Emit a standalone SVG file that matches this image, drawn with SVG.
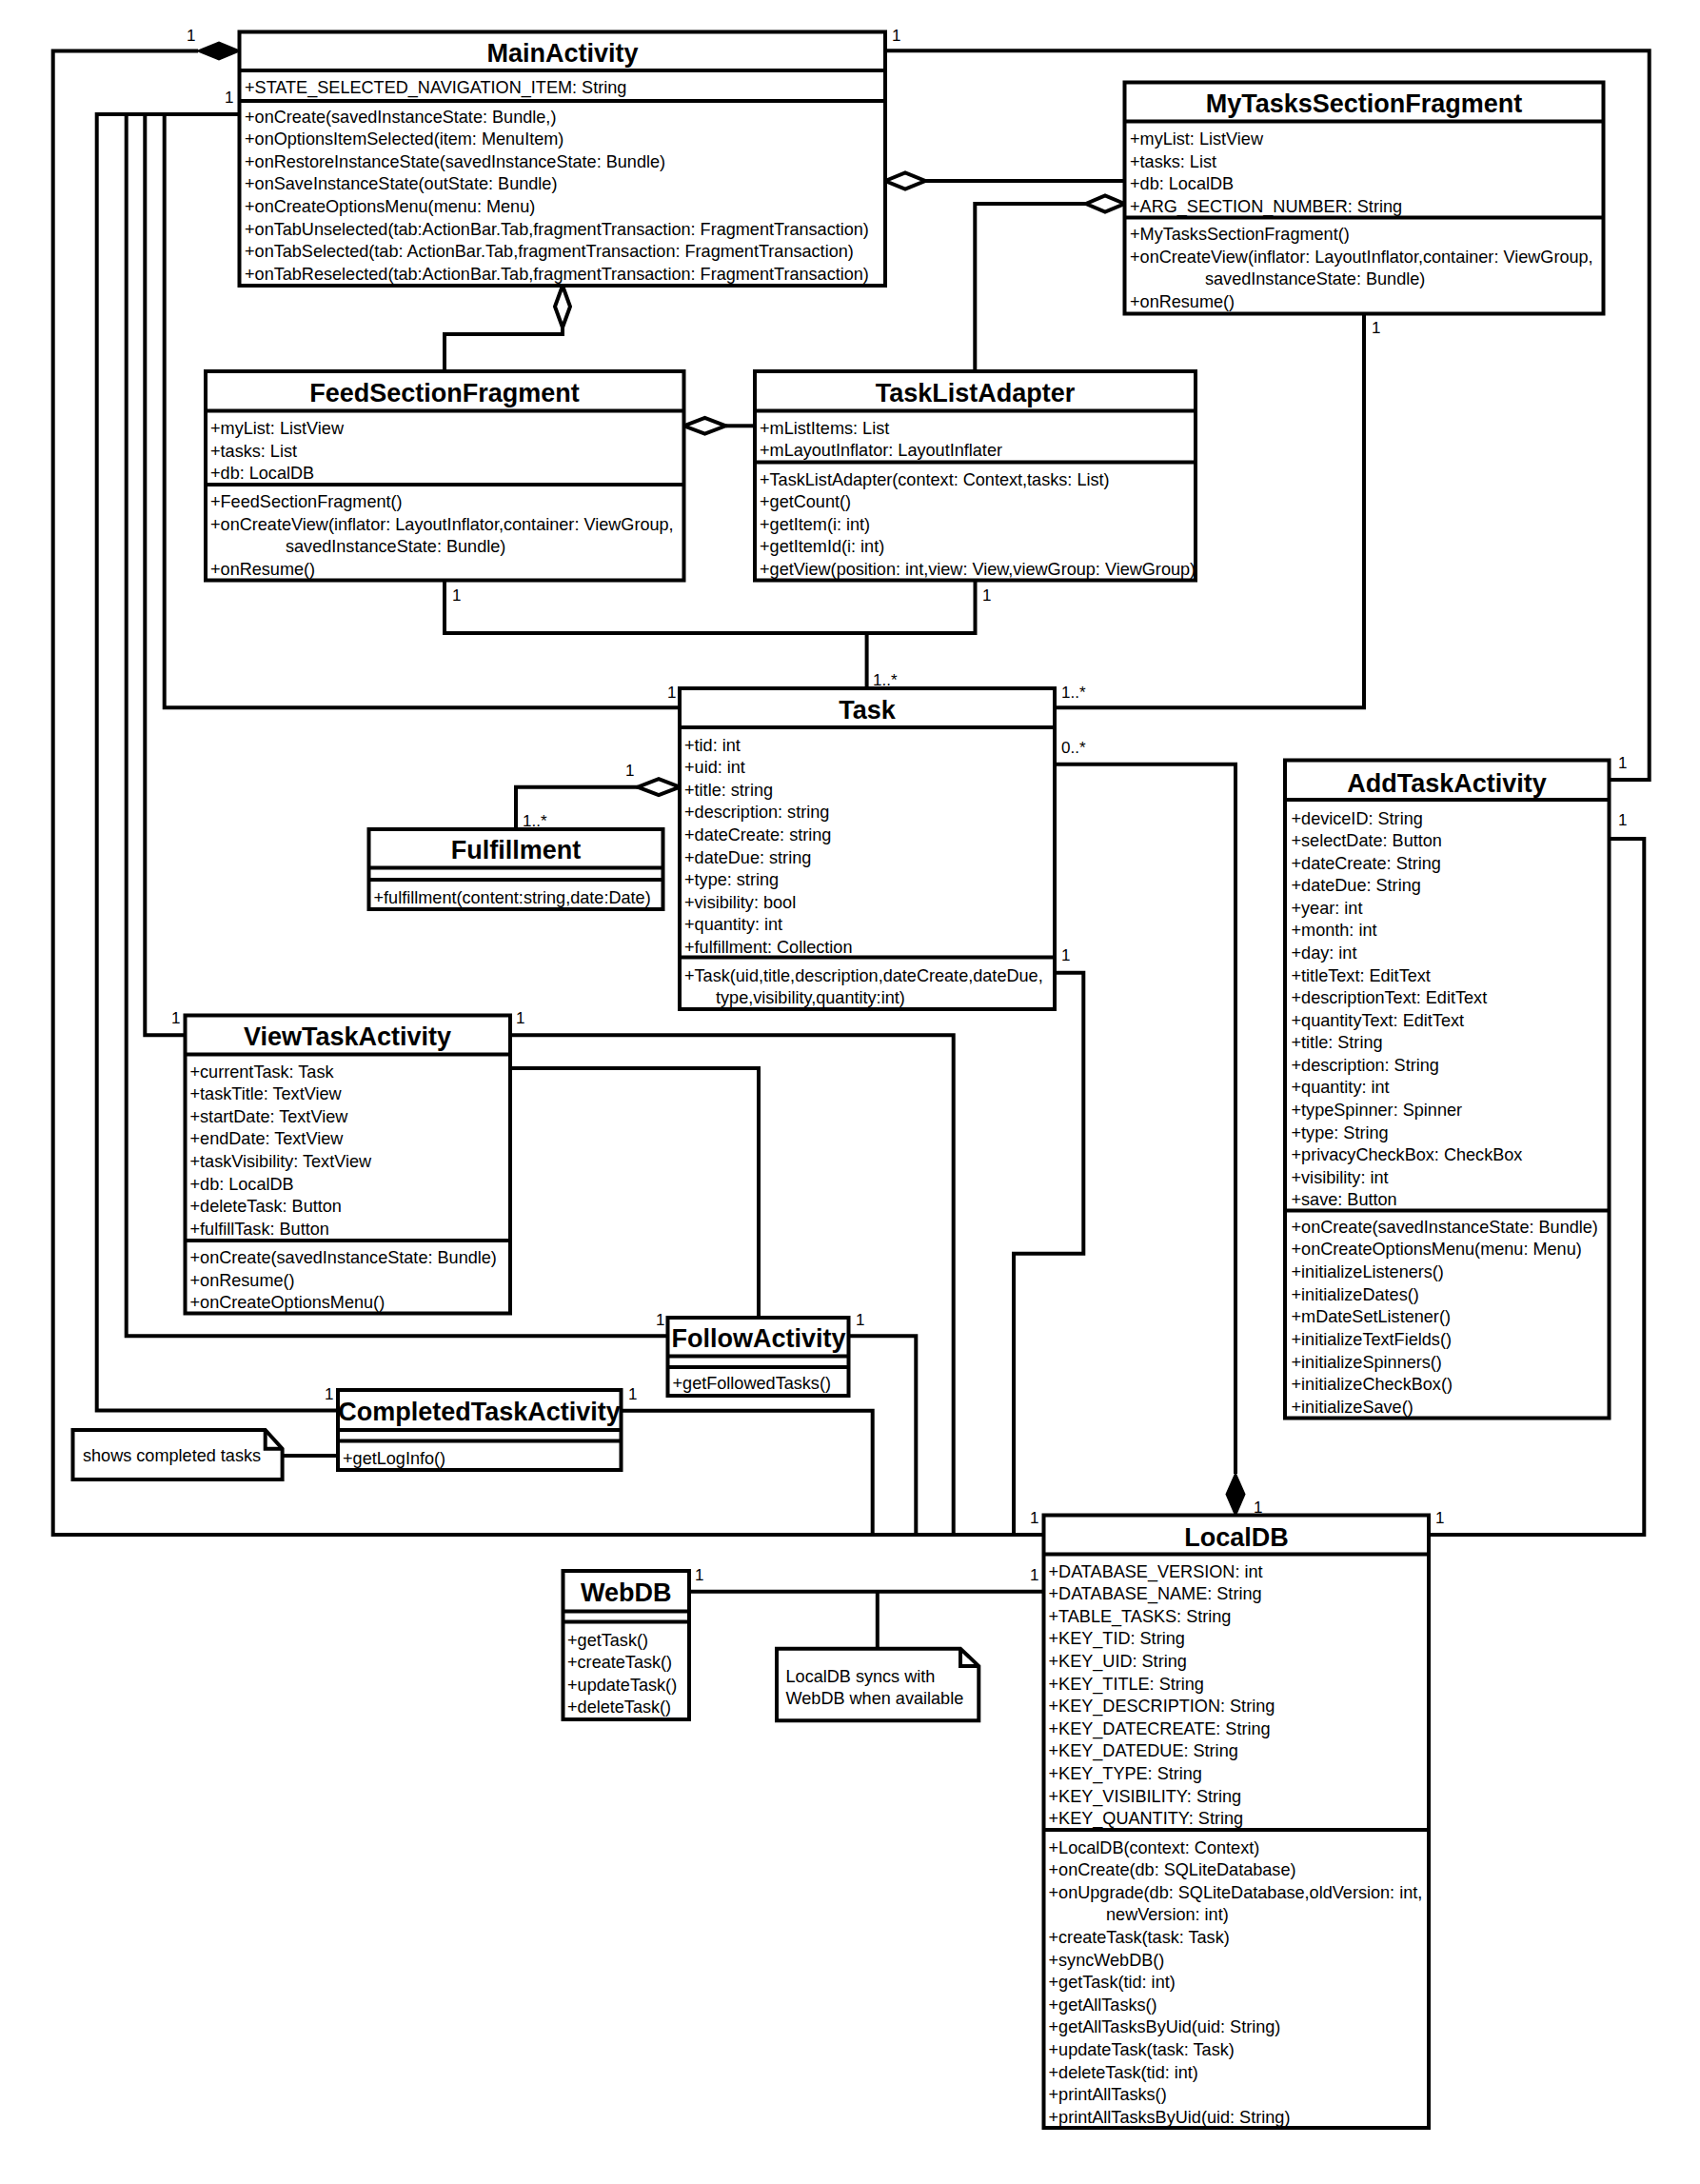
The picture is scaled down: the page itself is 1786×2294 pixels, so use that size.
<svg xmlns="http://www.w3.org/2000/svg" width="1786" height="2294" viewBox="0 0 1786 2294">
<style>
.box{fill:#fff;stroke:#000;stroke-width:4}
.dv{stroke:#000;stroke-width:4}
.tx{font-family:"Liberation Sans",Arial,sans-serif;font-size:18.1px;fill:#000}
.ti{font-family:"Liberation Sans",Arial,sans-serif;font-size:27px;font-weight:bold;fill:#000;text-anchor:middle}
.lb{font-family:"Liberation Sans",Arial,sans-serif;font-size:17px;fill:#000}
.cn{fill:none;stroke:#000;stroke-width:4}
.hd{fill:#fff;stroke:#000;stroke-width:4}
.fd{fill:#000;stroke:#000;stroke-width:2}
.note{fill:#fff;stroke:#000;stroke-width:4}
</style>
<rect x="0" y="0" width="1786" height="2294" fill="#fff"/>
<g id="connectors">
<path class="cn" d="M208,53.5 H55.7 V1612 H1096.5"/>
<path class="cn" d="M251.5,120 H101.7 V1481.5 H355"/>
<path class="cn" d="M251.5,120 H132.7 V1403.3 H701.5"/>
<path class="cn" d="M251.5,120 H152.3 V1087.3 H194.5"/>
<path class="cn" d="M251.5,120 H172.7 V743.3 H714"/>
<path class="cn" d="M930,53.3 H1732.7 V819 H1690.5"/>
<path class="cn" d="M972,190 H1181.5"/>
<path class="cn" d="M1141,214 H1024.3 V390"/>
<path class="cn" d="M591,344 V351 H467 V390"/>
<path class="cn" d="M762.5,447.3 H793"/>
<path class="cn" d="M467,609.5 V665 H1024.5 V609.5"/>
<path class="cn" d="M910.6,665 V723"/>
<path class="cn" d="M1433,329.5 V743.3 H1108"/>
<path class="cn" d="M1108,802.7 H1298 V1548"/>
<path class="cn" d="M1108,1021.7 H1138.3 V1316.7 H1065 V1612"/>
<path class="cn" d="M536,1087.3 H1001.7 V1612"/>
<path class="cn" d="M536,1122 H797 V1384"/>
<path class="cn" d="M891.7,1403.3 H962.3 V1612"/>
<path class="cn" d="M652.5,1481.7 H916.7 V1612"/>
<path class="cn" d="M296.6,1529 H355"/>
<path class="cn" d="M1690.5,881 H1727.3 V1612 H1501"/>
<path class="cn" d="M724,1671.7 H1096.5"/>
<path class="cn" d="M921.8,1671.7 V1731.7"/>
<path class="cn" d="M542,871 V826.7 H670"/>
<polygon class="fd" points="251.5,53.5 230,44.5 208,53.5 230,62.5"/>
<polygon class="hd" points="930,190 951,181.5 972,190 951,198.5"/>
<polygon class="hd" points="1181.5,214 1161,205.5 1141,214 1161,222.5"/>
<polygon class="hd" points="591,300 599,322 591,344 583,322"/>
<polygon class="hd" points="718.5,447.3 740.5,439 762.5,447.3 740.5,455.6"/>
<polygon class="hd" points="714,826.7 692,818.2 670,826.7 692,835.2"/>
<polygon class="fd" points="1298,1591.5 1307.5,1569.5 1298,1548 1288.5,1569.5"/>
<text class="lb" x="196" y="43">1</text>
<text class="lb" x="236" y="108">1</text>
<text class="lb" x="937" y="43">1</text>
<text class="lb" x="1441" y="350">1</text>
<text class="lb" x="475" y="631">1</text>
<text class="lb" x="1032" y="631">1</text>
<text class="lb" x="917" y="720">1..*</text>
<text class="lb" x="701" y="733">1</text>
<text class="lb" x="1115" y="733">1..*</text>
<text class="lb" x="1115" y="791">0..*</text>
<text class="lb" x="657" y="815">1</text>
<text class="lb" x="549" y="868">1..*</text>
<text class="lb" x="1115" y="1009">1</text>
<text class="lb" x="1700" y="807">1</text>
<text class="lb" x="1700" y="867">1</text>
<text class="lb" x="180" y="1075">1</text>
<text class="lb" x="542" y="1075">1</text>
<text class="lb" x="689" y="1392">1</text>
<text class="lb" x="899" y="1392">1</text>
<text class="lb" x="341" y="1470">1</text>
<text class="lb" x="660" y="1470">1</text>
<text class="lb" x="1082" y="1600">1</text>
<text class="lb" x="1317" y="1589">1</text>
<text class="lb" x="1508" y="1600">1</text>
<text class="lb" x="1082" y="1660">1</text>
<text class="lb" x="730" y="1660">1</text>
</g>
<g id="MainActivity">
<rect class="box" x="251.5" y="33.5" width="678.5" height="266.5"/>
<line class="dv" x1="251.5" y1="74" x2="930" y2="74"/>
<line class="dv" x1="251.5" y1="106" x2="930" y2="106"/>
<text class="ti" x="591" y="65">MainActivity</text>
<text class="tx" x="257" y="98">+STATE_SELECTED_NAVIGATION_ITEM: String</text>
<text class="tx" y="128.5"><tspan x="257">+onCreate(savedInstanceState: Bundle,)</tspan><tspan x="257" dy="23.6">+onOptionsItemSelected(item: MenuItem)</tspan><tspan x="257" dy="23.6">+onRestoreInstanceState(savedInstanceState: Bundle)</tspan><tspan x="257" dy="23.6">+onSaveInstanceState(outState: Bundle)</tspan><tspan x="257" dy="23.6">+onCreateOptionsMenu(menu: Menu)</tspan><tspan x="257" dy="23.6">+onTabUnselected(tab:ActionBar.Tab,fragmentTransaction: FragmentTransaction)</tspan><tspan x="257" dy="23.6">+onTabSelected(tab: ActionBar.Tab,fragmentTransaction: FragmentTransaction)</tspan><tspan x="257" dy="23.6">+onTabReselected(tab:ActionBar.Tab,fragmentTransaction: FragmentTransaction)</tspan></text>
</g>
<g id="MyTasksSectionFragment">
<rect class="box" x="1181.5" y="86.5" width="503" height="243"/>
<line class="dv" x1="1181.5" y1="127.5" x2="1684.5" y2="127.5"/>
<line class="dv" x1="1181.5" y1="228.5" x2="1684.5" y2="228.5"/>
<text class="ti" x="1433" y="118">MyTasksSectionFragment</text>
<text class="tx" y="152"><tspan x="1187">+myList: ListView</tspan><tspan x="1187" dy="23.6">+tasks: List</tspan><tspan x="1187" dy="23.6">+db: LocalDB</tspan><tspan x="1187" dy="23.6">+ARG_SECTION_NUMBER: String</tspan></text>
<text class="tx" y="252"><tspan x="1187">+MyTasksSectionFragment()</tspan><tspan x="1187" dy="23.6">+onCreateView(inflator: LayoutInflator,container: ViewGroup,</tspan><tspan x="1266" dy="23.6">savedInstanceState: Bundle)</tspan><tspan x="1187" dy="23.6">+onResume()</tspan></text>
</g>
<g id="FeedSectionFragment">
<rect class="box" x="216" y="390" width="502.5" height="219.5"/>
<line class="dv" x1="216" y1="431.5" x2="718.5" y2="431.5"/>
<line class="dv" x1="216" y1="509" x2="718.5" y2="509"/>
<text class="ti" x="467" y="422">FeedSectionFragment</text>
<text class="tx" y="456"><tspan x="221">+myList: ListView</tspan><tspan x="221" dy="23.6">+tasks: List</tspan><tspan x="221" dy="23.6">+db: LocalDB</tspan></text>
<text class="tx" y="533"><tspan x="221">+FeedSectionFragment()</tspan><tspan x="221" dy="23.6">+onCreateView(inflator: LayoutInflator,container: ViewGroup,</tspan><tspan x="300" dy="23.6">savedInstanceState: Bundle)</tspan><tspan x="221" dy="23.6">+onResume()</tspan></text>
</g>
<g id="TaskListAdapter">
<rect class="box" x="793" y="390" width="463" height="219.5"/>
<line class="dv" x1="793" y1="431.5" x2="1256" y2="431.5"/>
<line class="dv" x1="793" y1="485.5" x2="1256" y2="485.5"/>
<text class="ti" x="1024.5" y="422">TaskListAdapter</text>
<text class="tx" y="455.5"><tspan x="798">+mListItems: List</tspan><tspan x="798" dy="23.6">+mLayoutInflator: LayoutInflater</tspan></text>
<text class="tx" y="509.5"><tspan x="798">+TaskListAdapter(context: Context,tasks: List)</tspan><tspan x="798" dy="23.6">+getCount()</tspan><tspan x="798" dy="23.6">+getItem(i: int)</tspan><tspan x="798" dy="23.6">+getItemId(i: int)</tspan><tspan x="798" dy="23.6">+getView(position: int,view: View,viewGroup: ViewGroup)</tspan></text>
</g>
<g id="Task">
<rect class="box" x="714" y="723" width="394" height="337"/>
<line class="dv" x1="714" y1="764" x2="1108" y2="764"/>
<line class="dv" x1="714" y1="1005.5" x2="1108" y2="1005.5"/>
<text class="ti" x="911" y="755">Task</text>
<text class="tx" y="788.5"><tspan x="719">+tid: int</tspan><tspan x="719" dy="23.6">+uid: int</tspan><tspan x="719" dy="23.6">+title: string</tspan><tspan x="719" dy="23.6">+description: string</tspan><tspan x="719" dy="23.6">+dateCreate: string</tspan><tspan x="719" dy="23.6">+dateDue: string</tspan><tspan x="719" dy="23.6">+type: string</tspan><tspan x="719" dy="23.6">+visibility: bool</tspan><tspan x="719" dy="23.6">+quantity: int</tspan><tspan x="719" dy="23.6">+fulfillment: Collection</tspan></text>
<text class="tx" y="1030.5"><tspan x="719">+Task(uid,title,description,dateCreate,dateDue,</tspan><tspan x="752" dy="23.6">type,visibility,quantity:int)</tspan></text>
</g>
<g id="Fulfillment">
<rect class="box" x="387.5" y="871" width="309" height="84"/>
<line class="dv" x1="387.5" y1="911.5" x2="696.5" y2="911.5"/>
<line class="dv" x1="387.5" y1="924" x2="696.5" y2="924"/>
<text class="ti" x="542" y="902">Fulfillment</text>
<text class="tx" x="392.5" y="948.5">+fulfillment(content:string,date:Date)</text>
</g>
<g id="ViewTaskActivity">
<rect class="box" x="194.5" y="1066.5" width="341.5" height="313"/>
<line class="dv" x1="194.5" y1="1107.5" x2="536" y2="1107.5"/>
<line class="dv" x1="194.5" y1="1303" x2="536" y2="1303"/>
<text class="ti" x="365" y="1098">ViewTaskActivity</text>
<text class="tx" y="1131.5"><tspan x="199.5">+currentTask: Task</tspan><tspan x="199.5" dy="23.6">+taskTitle: TextView</tspan><tspan x="199.5" dy="23.6">+startDate: TextView</tspan><tspan x="199.5" dy="23.6">+endDate: TextView</tspan><tspan x="199.5" dy="23.6">+taskVisibility: TextView</tspan><tspan x="199.5" dy="23.6">+db: LocalDB</tspan><tspan x="199.5" dy="23.6">+deleteTask: Button</tspan><tspan x="199.5" dy="23.6">+fulfillTask: Button</tspan></text>
<text class="tx" y="1327"><tspan x="199.5">+onCreate(savedInstanceState: Bundle)</tspan><tspan x="199.5" dy="23.6">+onResume()</tspan><tspan x="199.5" dy="23.6">+onCreateOptionsMenu()</tspan></text>
</g>
<g id="FollowActivity">
<rect class="box" x="701.5" y="1384" width="190" height="82"/>
<line class="dv" x1="701.5" y1="1424.5" x2="891.5" y2="1424.5"/>
<line class="dv" x1="701.5" y1="1436" x2="891.5" y2="1436"/>
<text class="ti" x="797" y="1414.5">FollowActivity</text>
<text class="tx" x="706.5" y="1459">+getFollowedTasks()</text>
</g>
<g id="CompletedTaskActivity">
<rect class="box" x="355" y="1460" width="297.5" height="84"/>
<line class="dv" x1="355" y1="1502" x2="652.5" y2="1502"/>
<line class="dv" x1="355" y1="1513.5" x2="652.5" y2="1513.5"/>
<text class="ti" x="503.5" y="1492">CompletedTaskActivity</text>
<text class="tx" x="360" y="1537.5">+getLogInfo()</text>
</g>
<g id="NoteCompleted">
<polygon class="note" points="76.5,1502 278.7,1502 296.6,1521.7 296.6,1554 76.5,1554"/>
<polyline class="cn" points="278.7,1502 278.7,1521.7 296.6,1521.7"/>
<text class="tx" x="87" y="1535">shows completed tasks</text>
</g>
<g id="AddTaskActivity">
<rect class="box" x="1350" y="798.5" width="340.5" height="691"/>
<line class="dv" x1="1350" y1="840" x2="1690.5" y2="840"/>
<line class="dv" x1="1350" y1="1271.5" x2="1690.5" y2="1271.5"/>
<text class="ti" x="1520" y="831.5">AddTaskActivity</text>
<text class="tx" y="865.5"><tspan x="1356.5">+deviceID: String</tspan><tspan x="1356.5" dy="23.58">+selectDate: Button</tspan><tspan x="1356.5" dy="23.58">+dateCreate: String</tspan><tspan x="1356.5" dy="23.58">+dateDue: String</tspan><tspan x="1356.5" dy="23.58">+year: int</tspan><tspan x="1356.5" dy="23.58">+month: int</tspan><tspan x="1356.5" dy="23.58">+day: int</tspan><tspan x="1356.5" dy="23.58">+titleText: EditText</tspan><tspan x="1356.5" dy="23.58">+descriptionText: EditText</tspan><tspan x="1356.5" dy="23.58">+quantityText: EditText</tspan><tspan x="1356.5" dy="23.58">+title: String</tspan><tspan x="1356.5" dy="23.58">+description: String</tspan><tspan x="1356.5" dy="23.58">+quantity: int</tspan><tspan x="1356.5" dy="23.58">+typeSpinner: Spinner</tspan><tspan x="1356.5" dy="23.58">+type: String</tspan><tspan x="1356.5" dy="23.58">+privacyCheckBox: CheckBox</tspan><tspan x="1356.5" dy="23.58">+visibility: int</tspan><tspan x="1356.5" dy="23.58">+save: Button</tspan></text>
<text class="tx" y="1294.5"><tspan x="1356.5">+onCreate(savedInstanceState: Bundle)</tspan><tspan x="1356.5" dy="23.7">+onCreateOptionsMenu(menu: Menu)</tspan><tspan x="1356.5" dy="23.7">+initializeListeners()</tspan><tspan x="1356.5" dy="23.7">+initializeDates()</tspan><tspan x="1356.5" dy="23.7">+mDateSetListener()</tspan><tspan x="1356.5" dy="23.7">+initializeTextFields()</tspan><tspan x="1356.5" dy="23.7">+initializeSpinners()</tspan><tspan x="1356.5" dy="23.7">+initializeCheckBox()</tspan><tspan x="1356.5" dy="23.7">+initializeSave()</tspan></text>
</g>
<g id="LocalDB">
<rect class="box" x="1096.5" y="1591.5" width="404.5" height="643.5"/>
<line class="dv" x1="1096.5" y1="1632.5" x2="1501" y2="1632.5"/>
<line class="dv" x1="1096.5" y1="1922" x2="1501" y2="1922"/>
<text class="ti" x="1299" y="1623.5">LocalDB</text>
<text class="tx" y="1656.5"><tspan x="1101.5">+DATABASE_VERSION: int</tspan><tspan x="1101.5" dy="23.6">+DATABASE_NAME: String</tspan><tspan x="1101.5" dy="23.6">+TABLE_TASKS: String</tspan><tspan x="1101.5" dy="23.6">+KEY_TID: String</tspan><tspan x="1101.5" dy="23.6">+KEY_UID: String</tspan><tspan x="1101.5" dy="23.6">+KEY_TITLE: String</tspan><tspan x="1101.5" dy="23.6">+KEY_DESCRIPTION: String</tspan><tspan x="1101.5" dy="23.6">+KEY_DATECREATE: String</tspan><tspan x="1101.5" dy="23.6">+KEY_DATEDUE: String</tspan><tspan x="1101.5" dy="23.6">+KEY_TYPE: String</tspan><tspan x="1101.5" dy="23.6">+KEY_VISIBILITY: String</tspan><tspan x="1101.5" dy="23.6">+KEY_QUANTITY: String</tspan></text>
<text class="tx" y="1946.5"><tspan x="1101.5">+LocalDB(context: Context)</tspan><tspan x="1101.5" dy="23.6">+onCreate(db: SQLiteDatabase)</tspan><tspan x="1101.5" dy="23.6">+onUpgrade(db: SQLiteDatabase,oldVersion: int,</tspan><tspan x="1162" dy="23.6">newVersion: int)</tspan><tspan x="1101.5" dy="23.6">+createTask(task: Task)</tspan><tspan x="1101.5" dy="23.6">+syncWebDB()</tspan><tspan x="1101.5" dy="23.6">+getTask(tid: int)</tspan><tspan x="1101.5" dy="23.6">+getAllTasks()</tspan><tspan x="1101.5" dy="23.6">+getAllTasksByUid(uid: String)</tspan><tspan x="1101.5" dy="23.6">+updateTask(task: Task)</tspan><tspan x="1101.5" dy="23.6">+deleteTask(tid: int)</tspan><tspan x="1101.5" dy="23.6">+printAllTasks()</tspan><tspan x="1101.5" dy="23.6">+printAllTasksByUid(uid: String)</tspan></text>
</g>
<g id="WebDB">
<rect class="box" x="591.5" y="1650" width="132.5" height="156"/>
<line class="dv" x1="591.5" y1="1692.5" x2="724" y2="1692.5"/>
<line class="dv" x1="591.5" y1="1703.5" x2="724" y2="1703.5"/>
<text class="ti" x="657.7" y="1682">WebDB</text>
<text class="tx" y="1728.5"><tspan x="596">+getTask()</tspan><tspan x="596" dy="23.5">+createTask()</tspan><tspan x="596" dy="23.5">+updateTask()</tspan><tspan x="596" dy="23.5">+deleteTask()</tspan></text>
</g>
<g id="NoteSync">
<polygon class="note" points="816,1731.7 1009,1731.7 1028.3,1750 1028.3,1807.3 816,1807.3"/>
<polyline class="cn" points="1009,1731.7 1009,1750 1028.3,1750"/>
<text class="tx" y="1767"><tspan x="825.5">LocalDB syncs with</tspan><tspan x="825.5" dy="23">WebDB when available</tspan></text>
</g>
</svg>
